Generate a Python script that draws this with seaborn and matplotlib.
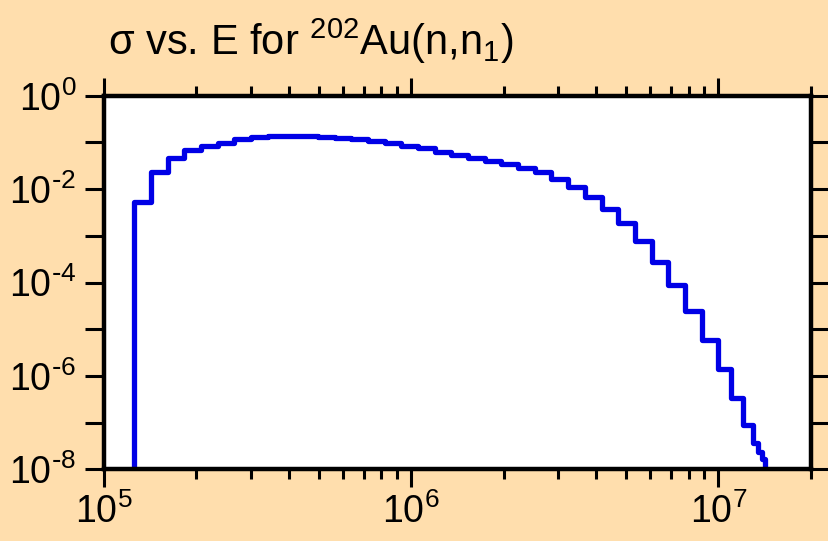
import numpy as np
import pandas as pd
import seaborn as sns
from matplotlib import pyplot as plt
from matplotlib import ticker

sns.set_theme(style="ticks")
plt.rcParams["font.family"] = ["Liberation Sans", "DejaVu Sans"]

# bin edges (eV)
edges = [1.2557e5, 1.4223e5, 1.6120e5, 1.8270e5, 2.0702e5, 2.3460e5, 2.6581e5,
         3.0130e5, 3.4145e5, 3.8693e5, 4.3843e5, 4.9700e5, 5.6316e5, 6.3815e5,
         7.2315e5, 8.1970e5, 9.2882e5, 1.0525e6, 1.1927e6, 1.3521e6, 1.5321e6,
         1.7361e6, 1.9672e6, 2.2300e6, 2.5269e6, 2.8634e6, 3.2447e6, 3.6781e6,
         4.1678e6, 4.7227e6, 5.3514e6, 6.0663e6, 6.8741e6, 7.7894e6, 8.8265e6,
         1.0e7, 1.1e7, 1.2e7, 1.3e7, 1.35e7, 1.39e7, 1.42e7, 1.45e7, 1.48e7]
# log10 of cross section in each bin
log_sigma = [-2.27, -1.627, -1.341, -1.163, -1.07, -1.006, -0.934, -0.891, -0.87,
             -0.856, -0.86, -0.877, -0.906, -0.934, -0.977, -1.02, -1.077, -1.127,
             -1.195, -1.263, -1.327, -1.39, -1.456, -1.54, -1.64, -1.777, -1.955,
             -2.16, -2.43, -2.733, -3.11, -3.55, -4.06, -4.61, -5.23, -5.86, -6.48,
             -7.05, -7.44, -7.62, -7.78, -8.3, -9.0]
sigma = [10.0 ** v for v in log_sigma]

xs = [edges[0]] + edges
ys = [1e-12] + sigma + [sigma[-1]]
df = pd.DataFrame({"E": xs, "sigma": ys})

fig = plt.figure(figsize=(8.29, 5.41), dpi=100, facecolor="#FFDEAD")
ax = fig.add_axes([0.1255, 0.1325, 0.8525, 0.6905])
ax.set_facecolor("white")

sns.lineplot(data=df, x="E", y="sigma", estimator=None, sort=False,
             drawstyle="steps-post", color="#0000E6", lw=3.8, ax=ax)

ax.set_xscale("log")
ax.set_yscale("log")
ax.set_xlim(1e5, 2e7)
ax.set_ylim(1e-8, 1e0)
ax.set_xlabel("")
ax.set_ylabel("")

for s in ax.spines.values():
    s.set_visible(True)
    s.set_linewidth(3.2)
    s.set_color("black")

ax.xaxis.set_major_locator(ticker.LogLocator(base=10, numticks=10))
ax.xaxis.set_minor_locator(ticker.LogLocator(base=10, subs=np.arange(2, 10), numticks=20))
ax.yaxis.set_major_locator(ticker.LogLocator(base=10, subs=(1.0,), numticks=20))
ax.yaxis.set_minor_locator(ticker.NullLocator())

def xfmt(v, pos):
    return r"$\mathregular{10^{%d}}$" % round(np.log10(v))

def yfmt(v, pos):
    e = round(np.log10(v))
    if e % 2:
        return ""
    if e < 0:
        return r"$\mathregular{10^{\text{-}%d}}$" % -e
    return r"$\mathregular{10^{%d}}$" % e

ax.xaxis.set_major_formatter(ticker.FuncFormatter(xfmt))
ax.yaxis.set_major_formatter(ticker.FuncFormatter(yfmt))

ax.tick_params(which="both", direction="out", top=True, right=True,
               colors="black", width=2.2, labelsize=27, pad=4)
ax.tick_params(which="major", length=13)
ax.tick_params(which="minor", length=7)
ax.tick_params(axis="y", which="major", length=14, pad=6)

fig.text(0.13, 0.898, "σ vs. E for $\\mathregular{^{202}}$Au(n,n$\\mathregular{_1}$)",
         fontsize=30, color="black", ha="left", va="baseline")

fig.savefig("out.png", dpi=100, facecolor=fig.get_facecolor())
